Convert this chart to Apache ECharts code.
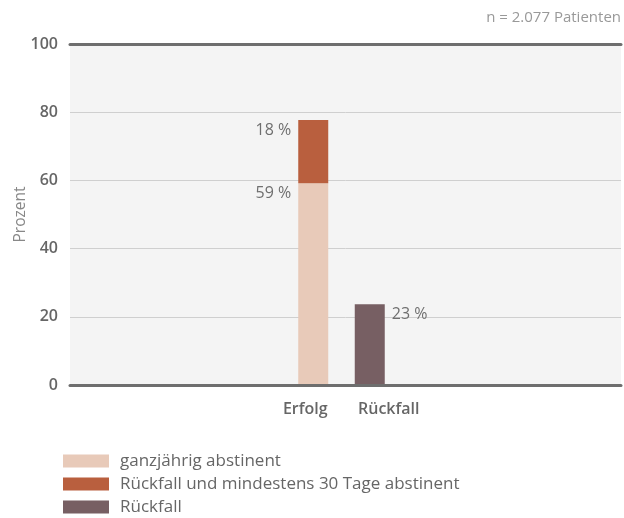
<!DOCTYPE html>
<html>
<head>
<meta charset="utf-8">
<script src="https://cdn.jsdelivr.net/npm/echarts@6/dist/echarts.min.js"></script>
<style>html,body{margin:0;padding:0;background:#fff}#c{width:624px;height:518px}</style>
</head>
<body>
<div id="c"></div>
<script>
var categories = ['Erfolg', 'Rückfall'];
var seriesNames = ['ganzjährig abstinent', 'Rückfall und mindestens 30 Tage abstinent', 'Rückfall'];
var abstinent = [59.2, null];
var rueckfallAbstinent = [18.5, null];
var rueckfall = [null, 23.7];
var labelTexts = [['59 %', null], ['18 %', null], [null, '23 %']];
var yTicks = [0, 20, 40, 60, 80, 100];
var titleText = 'n = 2.077 Patienten';

var colors = ['#e8cab9', '#b95f3e', '#775f63'];
var font = '"Open Sans", sans-serif';
var chart = echarts.init(document.getElementById('c'), null, {renderer: 'canvas'});

function leftLabel(idx) {
  return {
    show: true,
    position: [-7, 10],
    align: 'right',
    verticalAlign: 'middle',
    fontFamily: font,
    fontSize: 16,
    color: '#6f6f6f',
    formatter: function (p) { return labelTexts[idx][p.dataIndex] || ''; }
  };
}

var option = {
  animation: false,
  textStyle: {fontFamily: font},
  title: {
    text: titleText,
    right: 3,
    top: 10,
    padding: 0,
    textStyle: {fontFamily: font, fontSize: 15, fontWeight: 'normal', color: '#999'}
  },
  legend: {
    orient: 'vertical',
    left: 63,
    top: 451,
    padding: 0,
    itemWidth: 46,
    itemHeight: 13,
    itemGap: 3,
    icon: 'rect',
    data: seriesNames,
    textStyle: {fontFamily: font, fontSize: 17, lineHeight: 20, color: '#666', padding: [0, 0, 0, 6]}
  },
  grid: [
    {left: 70, right: 3, top: 44, height: 341, show: true, backgroundColor: '#f4f4f4', borderWidth: 0, outerBoundsMode: 'none', containLabel: false},
    {left: 285, width: 113, top: 44, height: 341, show: false, outerBoundsMode: 'none', containLabel: false}
  ],
  xAxis: [
    {gridIndex: 0, type: 'category', data: [''], position: 'bottom',
     axisLine: {show: true, lineStyle: {color: '#6e6e6e', width: 3}},
     axisTick: {show: false}, axisLabel: {show: false}, splitLine: {show: false}, z: 5},
    {gridIndex: 0, type: 'category', data: [''], position: 'top',
     axisLine: {show: true, lineStyle: {color: '#6e6e6e', width: 3}},
     axisTick: {show: false}, axisLabel: {show: false}, splitLine: {show: false}, z: 5},
    {gridIndex: 1, type: 'category', data: categories,
     axisLine: {show: false}, axisTick: {show: false},
     axisLabel: {
       interval: 0,
       hideOverlap: false,
       margin: 16,
       fontFamily: font, fontSize: 16, fontWeight: 600, color: '#666',
       formatter: function (v) { return v === categories[0] ? '{a|' + v + '}' : '{b|' + v + '}'; },
       rich: {
         a: {fontFamily: font, fontSize: 16, fontWeight: 600, color: '#666', padding: [0, 16, 0, 0]},
         b: {fontFamily: font, fontSize: 16, fontWeight: 600, color: '#666', padding: [0, 0, 0, 38]}
       }
     }}
  ],
  yAxis: [
    {gridIndex: 0, type: 'value', min: yTicks[0], max: yTicks[yTicks.length - 1], interval: 20,
     name: 'Prozent', nameLocation: 'middle', nameGap: 41, nameMoveOverlap: false,
     nameTextStyle: {fontFamily: font, fontSize: 15.5, color: '#888'},
     axisLine: {show: false}, axisTick: {show: false},
     axisLabel: {margin: 12, fontFamily: font, fontSize: 16, fontWeight: 600, color: '#666'},
     splitLine: {show: true, lineStyle: {color: '#cfcfcf', width: 1}}},
    {gridIndex: 1, type: 'value', min: 0, max: 100, show: false, splitLine: {show: false}}
  ],
  series: [
    {name: seriesNames[0], type: 'bar', stack: 's', xAxisIndex: 2, yAxisIndex: 1, barWidth: 30,
     data: abstinent, itemStyle: {color: colors[0]}, label: leftLabel(0), z: 3},
    {name: seriesNames[1], type: 'bar', stack: 's', xAxisIndex: 2, yAxisIndex: 1, barWidth: 30,
     data: rueckfallAbstinent, itemStyle: {color: colors[1]}, label: leftLabel(1), z: 3},
    {name: seriesNames[2], type: 'bar', stack: 's', xAxisIndex: 2, yAxisIndex: 1, barWidth: 30,
     data: rueckfall, itemStyle: {color: colors[2]}, z: 3,
     label: {show: true, position: [37, 10], align: 'left', verticalAlign: 'middle',
       fontFamily: font, fontSize: 16, color: '#6f6f6f',
       formatter: function (p) { return labelTexts[2][p.dataIndex] || ''; }}}
  ]
};
chart.setOption(option);
</script>
</body>
</html>
